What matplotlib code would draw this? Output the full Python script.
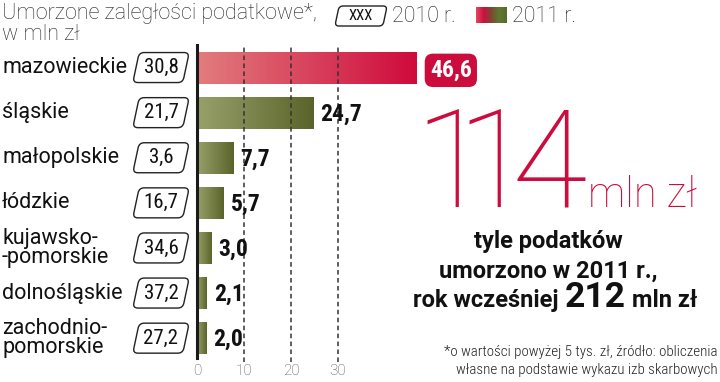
import matplotlib
matplotlib.use("Agg")
import matplotlib.pyplot as plt
import numpy as np
from matplotlib.patches import FancyBboxPatch
from matplotlib.transforms import Affine2D, ScaledTranslation, blended_transform_factory
from matplotlib.colors import LinearSegmentedColormap

regions = ["mazowieckie", "śląskie", "małopolskie", "łódzkie",
           "kujawsko-\n-pomorskie", "dolnośląskie", "zachodnio-\npomorskie"]
values_2011 = [46.6, 24.7, 7.7, 5.7, 3.0, 2.1, 2.0]
values_2010 = [30.8, 21.7, 3.6, 16.7, 34.6, 37.2, 27.2]
xticks = [0, 10, 20, 30]
total_2011 = "114"
total_2010 = "212"

W, H = 720, 382
fig = plt.figure(figsize=(W / 100, H / 100), dpi=100)
fig.patch.set_facecolor("white")

def fx(px):
    return px / W

def fy(py):
    return 1 - py / H

FONT = "Roboto"
COND = "Roboto Condensed"
RED = "#cc0c3c"

ax = fig.add_axes([fx(197), fy(358), (W - 197) / W, (358 - 45) / H])
for s in ["top", "right", "bottom"]:
    ax.spines[s].set_visible(False)
ax.spines["left"].set_linewidth(2.2)
ax.spines["left"].set_color("#1a1a1a")
ax.spines["left"].set_zorder(5)
ax.set_yticks([])
ax.set_xticks(xticks)
ax.set_xticklabels([str(t) for t in xticks], fontfamily=FONT, fontweight="light",
                   fontsize=11, color="#555555")
ax.tick_params(axis="x", length=0, pad=4)

red_cmap = LinearSegmentedColormap.from_list("r", ["#e27d7e", "#cf0a3c"])
olive_cmap = LinearSegmentedColormap.from_list("o", ["#98a16a", "#5a642a"])
grad = np.linspace(0, 1, 256).reshape(1, -1)

bh = 0.71
bars = ax.barh(range(len(regions)), values_2011, height=bh, color="none", edgecolor="none")
for i, (b, v) in enumerate(zip(bars, values_2011)):
    cmap = red_cmap if i == 0 else olive_cmap
    im = ax.imshow(grad, extent=[0, v, i + bh / 2, i - bh / 2], cmap=cmap,
                   aspect="auto", zorder=1, interpolation="bilinear")
    im.set_clip_path(b)

for t in xticks[1:]:
    ax.axvline(t, ymin=-0.013, ymax=1, color="#333333", lw=1.1,
               linestyle=(0, (3, 2.2)), zorder=2, clip_on=False)

# value labels 2011
for i, v in enumerate(values_2011):
    lab = f"{v:.1f}".replace(".", ",")
    if i == 0:
        ax.annotate(lab, (v, i), xytext=(10, -2), textcoords="offset points",
                    ha="left", va="center", fontfamily=COND, fontweight="bold",
                    fontsize=17, color="white", zorder=6,
                    bbox=dict(boxstyle="round,pad=0.22,rounding_size=0.35",
                              fc=RED, ec="none"))
    else:
        ax.annotate(lab, (v, i), xytext=(5, -1), textcoords="offset points",
                    ha="left", va="center", fontfamily=COND, fontweight="bold",
                    fontsize=17, color="#111111", zorder=6)

# region labels
tlab = blended_transform_factory(fig.transFigure, ax.transData)
for i, r in enumerate(regions):
    ax.text(fx(2), i, r, transform=tlab, ha="left", va="center", fontfamily=FONT,
            fontsize=15.5, color="#111111", linespacing=0.85, clip_on=False)

# slanted boxes for 2010 values
box_x = -7.66
for i, v in enumerate(values_2010):
    tr = ScaledTranslation(box_x, i, ax.transData)
    p = FancyBboxPatch((-25, -15), 50, 30,
                       boxstyle="round,pad=0,rounding_size=5",
                       fc="white", ec="#222222", lw=1.0,
                       transform=Affine2D().skew_deg(12, 0) + tr,
                       clip_on=False, zorder=4)
    ax.add_artist(p)
    ax.text(box_x, i, f"{v:.1f}".replace(".", ","), ha="center", va="center",
            fontfamily=COND, fontsize=15, color="#111111", zorder=6, clip_on=False)

ax.set_xlim(0, (W - 197) / 4.7)
ax.set_ylim(6.44, -0.5)
ax.set_aspect("auto")

# title
fig.text(fx(2), fy(13), "Umorzone zaległości podatkowe*,", ha="left", va="center",
         fontfamily=FONT, fontweight="light", fontsize=15.5, color="#222222")
fig.text(fx(2), fy(34), "w mln zł", ha="left", va="center",
         fontfamily=FONT, fontweight="light", fontsize=15.5, color="#222222")

# legend
fig.add_artist(FancyBboxPatch((-24, -10), 48, 20, boxstyle="round,pad=0,rounding_size=4",
                              fc="white", ec="#222222", lw=1.0, zorder=0.5,
                              transform=Affine2D().skew_deg(12, 0).translate(361, H - 16)))
fig.text(fx(361), fy(16), "XXX", ha="center", va="center", fontfamily=COND,
         fontsize=10.5, color="#111111", zorder=3)
fig.text(fx(392), fy(16), "2010 r.", ha="left", va="center", fontfamily=FONT,
         fontweight="light", fontsize=15.5, color="#222222")
lax = fig.add_axes([fx(476), fy(23), 31 / W, 16 / H])
lcmap = LinearSegmentedColormap.from_list("l", ["#e04a5a", "#cc1040", "#7a4a30", "#5e7a30", "#5a6a2a"])
lax.imshow(grad, cmap=lcmap, aspect="auto", extent=[0, 1, 0, 1])
lax.axis("off")
fig.text(fx(512), fy(16), "2011 r.", ha="left", va="center", fontfamily=FONT,
         fontweight="light", fontsize=15.5, color="#222222")

# big number, characters placed individually to mimic the condensed display face
for ch, cx in zip(total_2011, [452, 494, 549]):
    fig.text(fx(cx), fy(207), ch, ha="center", va="baseline", fontfamily=FONT,
             fontweight=250, fontsize=99, color=RED)
fig.text(fx(588), fy(207), "mln zł", ha="left", va="baseline", fontfamily=FONT,
         fontweight="light", fontsize=30, color=RED)

fig.text(fx(548), fy(242), "tyle podatków", ha="center", va="center", fontfamily=FONT,
         fontweight="bold", fontsize=17, color="#111111")
fig.text(fx(548), fy(271), "umorzono w 2011 r.,", ha="center", va="center", fontfamily=FONT,
         fontweight="bold", fontsize=17, color="#111111")
fig.text(fx(413), fy(307), "rok wcześniej", ha="left", va="baseline", fontfamily=FONT,
         fontweight="bold", fontsize=17, color="#111111")
fig.text(fx(565), fy(307), total_2010, ha="left", va="baseline", fontfamily=FONT,
         fontweight="bold", fontsize=25.5, color="#111111")
fig.text(fx(632), fy(307), "mln zł", ha="left", va="baseline", fontfamily=FONT,
         fontweight="bold", fontsize=17, color="#111111")

fig.text(fx(718), fy(352), "*o wartości powyżej 5 tys. zł, źródło: obliczenia",
         ha="right", va="center", fontfamily=COND, fontweight="light", fontsize=10.8,
         color="#222222")
fig.text(fx(718), fy(370), "własne na podstawie wykazu izb skarbowych",
         ha="right", va="center", fontfamily=COND, fontweight="light", fontsize=10.8,
         color="#222222")

fig.savefig("out.png", dpi=100)
